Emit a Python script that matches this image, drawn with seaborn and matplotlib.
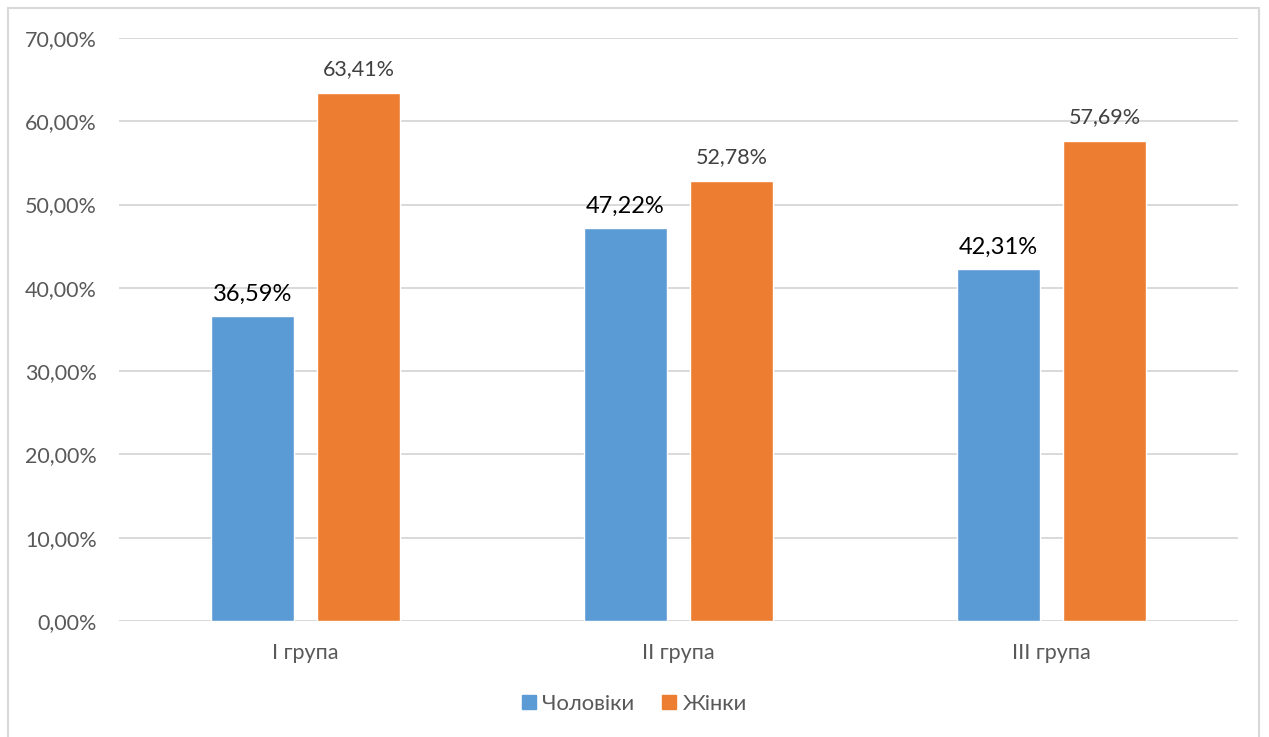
import matplotlib
matplotlib.use("Agg")
import matplotlib.pyplot as plt
import seaborn as sns
import pandas as pd
from matplotlib.patches import Rectangle
from matplotlib.lines import Line2D

categories = ["I група", "II група", "III група"]
series_names = ["Чоловіки", "Жінки"]
men = [36.59, 47.22, 42.31]
women = [63.41, 52.78, 57.69]
yticks = [0, 10, 20, 30, 40, 50, 60, 70]
colors = ["#5B9BD5", "#ED7D31"]

df = pd.DataFrame({
    "group": categories + categories,
    "sex": [series_names[0]] * 3 + [series_names[1]] * 3,
    "value": men + women,
})

sns.set_theme(style="white")
plt.rcParams["font.family"] = ["Lato", "DejaVu Sans"]

fig = plt.figure(figsize=(12.69, 7.37), dpi=100)
ax = fig.add_axes([0.0938, 0.1574, 0.8818, 0.791])

sns.barplot(data=df, x="group", y="value", hue="sex", palette=colors,
            order=categories, hue_order=series_names,
            width=0.57, gap=0.22, saturation=1, errorbar=None,
            legend=False, ax=ax)

def fmt(v):
    return f"{v:.2f}%".replace(".", ",")

ax.bar_label(ax.containers[0], labels=[fmt(v) for v in men], padding=8,
             fontsize=17, color="#000000")
ax.bar_label(ax.containers[1], labels=[fmt(v) for v in women], padding=10,
             fontsize=15.5, color="#404040")

ax.set_ylim(0, 70)
ax.set_yticks(yticks)
ax.set_yticklabels([fmt(v) for v in yticks])
ax.set_xlim(-0.5, 2.5)
ax.set_xlabel("")
ax.set_ylabel("")
ax.tick_params(axis="y", length=0, pad=16, labelsize=15.5, labelcolor="#595959")
ax.tick_params(axis="x", length=0, pad=16, labelsize=15.5, labelcolor="#595959")
ax.yaxis.grid(True, color="#D9D9D9", linewidth=1.4)
ax.set_axisbelow(True)
for s in ax.spines.values():
    s.set_visible(False)

handles = [Line2D([0], [0], marker="s", linestyle="none", markersize=10,
                  markerfacecolor=c, markeredgecolor=c) for c in colors]
fig.legend(handles, series_names, loc="center", bbox_to_anchor=(0.5, 0.045),
           ncol=2, frameon=False, handlelength=0.6, handletextpad=0.3,
           columnspacing=1.3, fontsize=15.8, labelcolor="#595959")

fig.patches.append(Rectangle((8 / 1269, -0.05), (1259 - 8) / 1269, 1 - 8 / 737 + 0.05,
                             transform=fig.transFigure, fill=False,
                             edgecolor="#D9D9D9", linewidth=1.5))

fig.savefig("out.png", dpi=100, facecolor="white")
